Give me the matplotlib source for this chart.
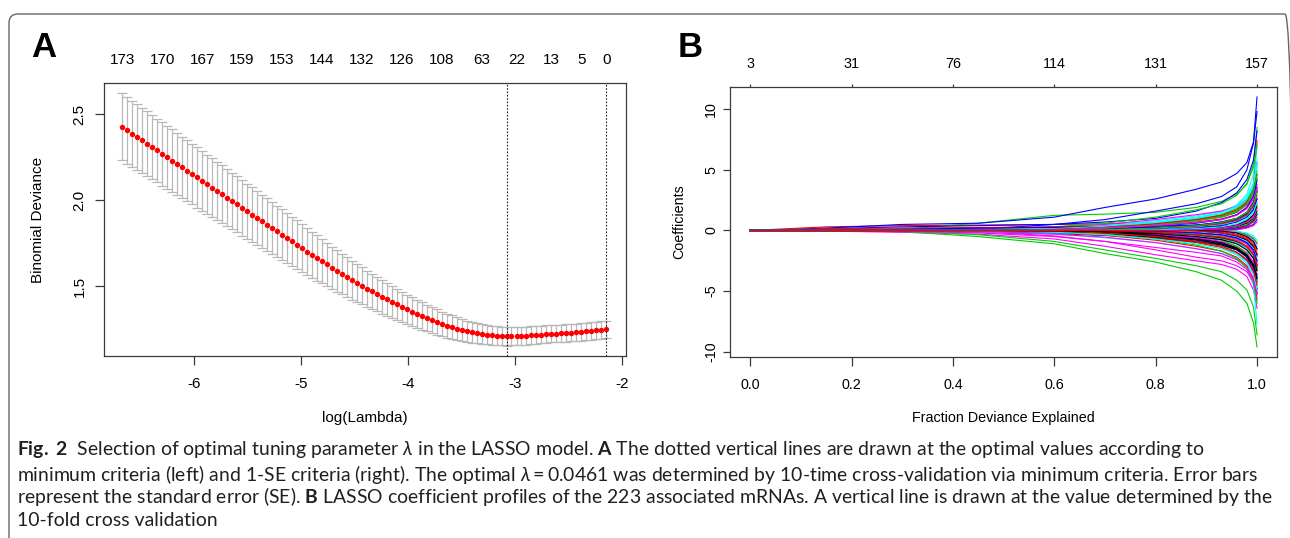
import matplotlib
matplotlib.use("Agg")
import matplotlib.pyplot as plt
from matplotlib import font_manager
from matplotlib.patches import FancyBboxPatch
from matplotlib.transforms import IdentityTransform

# Panel A: 10-fold CV binomial deviance along the lambda path
log_lambda = [
    -6.666, -6.619, -6.573, -6.526, -6.480, -6.433, -6.387, -6.340, -6.293, -6.247,
    -6.200, -6.154, -6.107, -6.061, -6.014, -5.967, -5.921, -5.874, -5.828, -5.781,
    -5.735, -5.688, -5.642, -5.595, -5.548, -5.502, -5.455, -5.409, -5.362, -5.316,
    -5.269, -5.222, -5.176, -5.129, -5.083, -5.036, -4.990, -4.943, -4.896, -4.850,
    -4.803, -4.757, -4.710, -4.664, -4.617, -4.570, -4.524, -4.477, -4.431, -4.384,
    -4.338, -4.291, -4.245, -4.198, -4.151, -4.105, -4.058, -4.012, -3.965, -3.919,
    -3.872, -3.825, -3.779, -3.732, -3.686, -3.639, -3.593, -3.546, -3.499, -3.453,
    -3.406, -3.360, -3.313, -3.267, -3.220, -3.173, -3.127, -3.080, -3.034, -2.987,
    -2.941, -2.894, -2.848, -2.801, -2.754, -2.708, -2.661, -2.615, -2.568, -2.522,
    -2.475, -2.428, -2.382, -2.335, -2.289, -2.242, -2.196, -2.149,
]
cv_mean = [
    2.426, 2.406, 2.387, 2.367, 2.348, 2.328, 2.308, 2.289, 2.269, 2.250,
    2.230, 2.210, 2.191, 2.171, 2.152, 2.132, 2.112, 2.093, 2.073, 2.054,
    2.034, 2.014, 1.995, 1.975, 1.956, 1.936, 1.916, 1.897, 1.877, 1.858,
    1.838, 1.818, 1.799, 1.779, 1.760, 1.740, 1.720, 1.701, 1.683, 1.664,
    1.645, 1.626, 1.607, 1.589, 1.570, 1.552, 1.535, 1.518, 1.501, 1.485,
    1.469, 1.453, 1.438, 1.423, 1.408, 1.394, 1.380, 1.366, 1.352, 1.339,
    1.326, 1.314, 1.302, 1.291, 1.280, 1.270, 1.261, 1.252, 1.244, 1.237,
    1.231, 1.226, 1.221, 1.217, 1.214, 1.211, 1.209, 1.207, 1.208, 1.209,
    1.210, 1.212, 1.214, 1.216, 1.218, 1.220, 1.222, 1.224, 1.225, 1.227,
    1.229, 1.231, 1.233, 1.236, 1.239, 1.242, 1.245, 1.249,
]
cv_se = [
    0.195, 0.194, 0.192, 0.191, 0.190, 0.188, 0.187, 0.186, 0.184, 0.183,
    0.182, 0.180, 0.179, 0.178, 0.176, 0.175, 0.174, 0.172, 0.171, 0.170,
    0.168, 0.167, 0.165, 0.163, 0.162, 0.160, 0.158, 0.156, 0.154, 0.153,
    0.151, 0.149, 0.147, 0.145, 0.144, 0.142, 0.140, 0.137, 0.134, 0.132,
    0.129, 0.126, 0.123, 0.121, 0.118, 0.115, 0.113, 0.110, 0.108, 0.105,
    0.103, 0.100, 0.098, 0.095, 0.093, 0.090, 0.088, 0.085, 0.083, 0.081,
    0.079, 0.078, 0.076, 0.074, 0.072, 0.070, 0.068, 0.066, 0.064, 0.062,
    0.061, 0.059, 0.057, 0.056, 0.055, 0.054, 0.054, 0.053, 0.053, 0.052,
    0.052, 0.052, 0.051, 0.051, 0.051, 0.051, 0.050, 0.050, 0.050, 0.050,
    0.050, 0.050, 0.050, 0.050, 0.050, 0.050, 0.050, 0.050,
]
lambda_min_log = -3.077
lambda_1se_log = -2.149
nzero_pos = [-6.666, -6.293, -5.921, -5.548, -5.176, -4.803, -4.431,
             -4.058, -3.686, -3.313, -2.987, -2.661, -2.382, -2.149]
nzero_labels = ["173", "170", "167", "159", "153", "144", "132",
                "126", "108", "63", "22", "13", "5", "0"]

# Panel B: coefficient profiles against fraction of deviance explained
dev_grid = [0.0, 0.05, 0.15, 0.3, 0.45, 0.6, 0.7, 0.8, 0.88, 0.93, 0.96, 0.98, 0.993, 1.0]
coef_paths = [
    [0, 0, 0.05, 0.1, 0.15, 0.2, 0.22, 0.25, 0.3, 0.35, 0.45, 0.6, 0.9, 1.4],
    [0, 0.1, 0.3, 0.4, 0.45, 0.5, 0.55, 0.65, 0.85, 1.1, 1.5, 2.2, 3.8, 7.4],
    [0, 0, 0, 0.1, 0.6, 1.25, 1.35, 1.5, 1.9, 2.4, 3.0, 3.8, 5.5, 8.5],
    [0, 0.02, 0.2, 0.5, 0.6, 1.1, 1.9, 2.6, 3.4, 4.0, 4.7, 5.6, 7.3, 11.0],
    [0, 0, 0.05, 0.1, 0.15, 0.25, 0.4, 0.65, 1.0, 1.5, 2.1, 3.0, 4.6, 6.9],
    [0, 0, -0.05, -0.15, -0.3, -0.7, -1.3, -2.0, -2.5, -2.8, -3.2, -3.8, -4.9, -6.4],
    [0, 0, 0, -0.05, -0.1, -0.25, -0.4, -0.65, -0.95, -1.3, -1.8, -2.4, -3.4, -4.8],
    [0, 0, 0, 0, 0.05, 0.2, 0.35, 0.55, 0.85, 1.15, 1.6, 2.3, 3.6, 5.6],
    [0, 0, 0, -0.1, -0.5, -1.1, -1.9, -2.6, -3.4, -4.1, -5.0, -6.0, -7.6, -9.6],
    [0, 0, 0, 0, 0.1, 0.5, 0.9, 1.6, 2.2, 2.8, 3.6, 5.0, 7.2, 9.8],
    [0, 0, 0, -0.02, -0.1, -0.3, -0.6, -1.0, -1.5, -1.9, -2.4, -3.0, -4.5, -7.7],
    [0, 0, 0, 0, -0.1, -0.45, -0.9, -1.6, -2.2, -2.5, -2.9, -3.4, -4.3, -5.8],
    [0, 0, 0, 0, 0, -0.1, -0.2, -0.4, -0.7, -1.0, -1.4, -2.0, -3.0, -4.2],
    [0, 0, 0, 0, -0.05, -0.2, -0.4, -0.8, -1.3, -1.7, -2.2, -2.9, -4.0, -5.6],
    [0, 0, 0, -0.05, -0.35, -0.9, -1.6, -2.3, -2.9, -3.4, -4.1, -4.9, -6.3, -8.6],
    [0, 0.02, 0.15, 0.3, 0.4, 0.5, 0.7, 1.0, 1.6, 2.3, 3.1, 4.2, 5.8, 8.2],
    [0, 0, 0, 0, 0.05, 0.2, 0.4, 0.8, 1.2, 1.6, 2.0, 2.6, 3.6, 5.2],
    [0, 0, 0.02, 0.08, 0.15, 0.3, 0.5, 0.9, 1.3, 1.6, 2.0, 2.5, 3.4, 4.6],
    [0, 0, 0, 0, 0, 0.05, 0.1, 0.2, 0.4, 0.6, 0.9, 1.3, 2.0, 3.2],
    [0, 0, 0, 0, 0, -0.1, -0.3, -0.6, -1.0, -1.4, -1.9, -2.5, -3.5, -4.9],
    [0, 0, 0, 0, 0.05, 0.3, 0.6, 1.1, 1.7, 2.2, 2.9, 3.9, 5.2, 7.0],
    [0, 0, 0, 0, 0, -0.05, -0.15, -0.3, -0.6, -1.0, -1.5, -2.2, -3.4, -5.2],
    [0, 0, 0, 0, 0, 0.1, 0.3, 0.6, 1.0, 1.4, 1.9, 2.6, 3.7, 5.9],
    [0, 0, -0.02, -0.1, -0.15, -0.3, -0.55, -1.0, -1.5, -1.9, -2.4, -3.0, -3.9, -5.1],
    [0, 0, 0, 0, 0, 0, -0.1, -0.3, -0.6, -1.0, -1.5, -2.1, -2.8, -3.6],
    [0, 0.05, 0.15, 0.2, 0.25, 0.3, 0.35, 0.45, 0.7, 0.95, 1.3, 1.9, 2.9, 4.3],
    [0, 0, 0, 0, 0, 0.05, 0.2, 0.5, 0.9, 1.3, 1.8, 2.4, 3.4, 4.9],
    [0, 0, 0, 0, 0, 0, 0.05, 0.15, 0.35, 0.6, 0.9, 1.4, 2.2, 3.3],
    [0, 0, -0.02, -0.08, -0.12, -0.2, -0.3, -0.5, -0.9, -1.3, -1.9, -2.6, -3.6, -4.6],
    [0, 0, 0, 0, 0, 0, -0.1, -0.3, -0.6, -0.9, -1.3, -1.8, -2.6, -3.7],
    [0, 0, 0, -0.02, -0.05, -0.1, -0.15, -0.25, -0.45, -0.7, -1.0, -1.5, -2.3, -3.3],
    [0, 0, 0, 0, 0, 0, 0.05, 0.2, 0.4, 0.7, 1.0, 1.5, 2.4, 3.6],
    [0, 0, 0, 0, 0, 0, -0.05, -0.2, -0.5, -0.8, -1.3, -1.9, -3.0, -4.4],
    [0, 0, 0.03, 0.1, 0.2, 0.25, 0.3, 0.35, 0.45, 0.6, 0.8, 1.2, 1.8, 2.6],
    [0, 0, 0, 0, 0, 0, 0.05, 0.15, 0.3, 0.5, 0.8, 1.2, 1.9, 3.0],
    [0, 0, 0, -0.03, -0.1, -0.2, -0.3, -0.4, -0.55, -0.75, -1.0, -1.4, -2.0, -2.8],
    [0, 0, 0, 0, 0, 0, 0, 0, -0.1, -0.3, -0.6, -1.0, -1.6, -2.5],
    [0, 0, 0, 0, 0, 0, 0, -0.05, -0.2, -0.4, -0.7, -1.1, -1.8, -2.8],
    [0, 0, 0, 0, 0, 0, 0, 0, 0.1, 0.25, 0.5, 0.9, 1.5, 2.3],
    [0, 0, 0, 0, 0, 0, 0, 0, -0.1, -0.25, -0.5, -0.8, -1.4, -2.1],
    [0, 0, 0, 0, 0, 0, 0, 0, 0.05, 0.2, 0.4, 0.7, 1.2, 1.9],
    [0, 0, 0, 0, 0, 0, 0, 0, -0.05, -0.2, -0.4, -0.7, -1.2, -1.9],
    [0, 0, 0, 0, 0, 0, 0, 0, 0.05, 0.15, 0.3, 0.6, 1.0, 1.6],
    [0, 0, 0, 0, 0, 0, 0, 0, 0, -0.1, -0.3, -0.6, -1.0, -1.6],
    [0, 0, 0, 0, 0, 0, 0, 0, 0, 0.1, 0.25, 0.5, 0.9, 1.4],
    [0, 0, 0, 0, 0, 0, 0, 0, 0, 0.05, 0.2, 0.4, 0.8, 1.3],
    [0, 0, 0, 0, 0, 0, 0, 0, 0, -0.05, -0.2, -0.4, -0.8, -1.3],
    [0, 0, 0, 0, 0, 0, 0, 0, 0, -0.05, -0.15, -0.35, -0.7, -1.1],
    [0, 0, 0, 0, 0, 0, 0, 0, -0.05, -0.2, -0.45, -0.8, -1.3, -2.0],
    [0, 0, 0, 0, 0, 0, 0, 0, 0, 0.05, 0.15, 0.35, 0.7, 1.1],
    [0, 0, 0, 0, 0, 0, 0, 0, 0, 0, -0.1, -0.3, -0.6, -1.0],
    [0, 0, 0, 0, 0, 0, 0, 0, 0, 0, 0.1, 0.25, 0.5, 0.9],
    [0, 0, 0, 0, 0, 0, 0, 0, 0, 0, -0.05, -0.2, -0.45, -0.8],
    [0, 0, 0, 0, 0, 0, 0, 0, 0, 0, 0.05, 0.2, 0.4, 0.7],
    [0, 0, 0, 0, 0, 0, 0, 0, 0, -0.05, -0.2, -0.5, -0.9, -1.5],
    [0, 0, 0, 0, 0, 0, 0, 0, 0.05, 0.2, 0.4, 0.7, 1.2, 1.9],
    [0, 0, 0, 0, 0.02, 0.1, 0.25, 0.5, 0.8, 1.1, 1.5, 2.1, 3.0, 4.3],
    [0, 0, 0, 0, 0, -0.05, -0.2, -0.45, -0.8, -1.15, -1.6, -2.2, -3.1, -4.0],
    [0, 0, 0, 0, 0.05, 0.15, 0.35, 0.7, 1.1, 1.5, 2.0, 2.8, 3.9, 5.4],
    [0, 0, 0, 0, 0, 0.05, 0.2, 0.5, 0.85, 1.2, 1.6, 2.1, 2.8, 3.8],
    [0, 0, 0, 0, -0.05, -0.15, -0.3, -0.55, -0.9, -1.2, -1.6, -2.1, -2.9, -3.9],
    [0, 0, 0, 0, 0.02, 0.1, 0.25, 0.55, 0.9, 1.25, 1.7, 2.3, 3.2, 4.6],
    [0, 0, 0, 0, 0, -0.1, -0.3, -0.7, -1.2, -1.7, -2.3, -3.1, -4.3, -6.0],
    [0, 0, 0, 0, 0, 0.05, 0.15, 0.35, 0.6, 0.9, 1.3, 1.9, 2.8, 4.1],
    [0, 0, 0, 0, -0.05, -0.15, -0.35, -0.7, -1.1, -1.5, -2.0, -2.7, -3.6, -4.9],
    [0, 0, 0, -0.05, -0.2, -0.5, -0.9, -1.4, -1.8, -2.1, -2.6, -3.2, -4.1, -5.3],
    [0, 0, 0, 0, 0, -0.05, -0.15, -0.4, -0.75, -1.1, -1.5, -2.0, -2.8, -3.9],
    [0, 0, 0, 0, 0, -0.05, -0.2, -0.5, -0.9, -1.3, -1.8, -2.4, -3.3, -4.5],
    [0, 0, 0, 0, 0, 0.05, 0.2, 0.45, 0.8, 1.15, 1.6, 2.2, 3.2, 4.6],
    [0, 0, 0, 0, 0, 0, 0.05, 0.2, 0.45, 0.7, 1.0, 1.5, 2.3, 3.5],
    [0, 0, 0, 0, 0, 0, -0.05, -0.2, -0.45, -0.7, -1.0, -1.5, -2.2, -3.2],
    [0, 0, 0, 0, 0.02, 0.08, 0.2, 0.4, 0.65, 0.9, 1.25, 1.8, 2.6, 3.5],
    [0, 0, 0, 0, 0, 0, -0.05, -0.15, -0.35, -0.6, -0.9, -1.3, -2.0, -2.9],
    [0, 0, 0, 0, 0, 0, 0.05, 0.15, 0.35, 0.55, 0.85, 1.3, 2.0, 2.9],
    [0, 0, 0, 0, 0, 0, 0, -0.1, -0.3, -0.5, -0.8, -1.3, -2.0, -3.1],
    [0, 0, 0, 0, 0, 0, 0, 0.05, 0.2, 0.4, 0.7, 1.1, 1.7, 2.6],
    [0, 0, 0, 0, 0, 0, 0, 0, -0.1, -0.3, -0.55, -0.9, -1.5, -2.4],
    [0, 0, 0, 0, 0, 0, 0, -0.05, -0.2, -0.4, -0.7, -1.1, -1.7, -2.6],
    [0, 0, 0, 0, 0, 0, 0, 0, 0.1, 0.25, 0.45, 0.8, 1.3, 2.1],
    [0, 0, 0, 0, 0, 0, -0.05, -0.15, -0.35, -0.55, -0.85, -1.3, -2.0, -3.0],
    [0, 0, 0, 0, 0, 0, 0.05, 0.2, 0.4, 0.65, 1.0, 1.5, 2.2, 3.2],
    [0, 0, 0, 0, 0, 0, 0, -0.05, -0.2, -0.35, -0.6, -1.0, -1.6, -2.5],
    [0, 0, 0, 0, 0, 0, 0, 0.05, 0.15, 0.3, 0.55, 0.95, 1.5, 2.3],
    [0, 0, 0, 0, 0, 0, 0, 0, 0.05, 0.2, 0.4, 0.7, 1.1, 1.8],
    [0, 0, 0, 0, 0, -0.02, -0.1, -0.25, -0.5, -0.75, -1.1, -1.6, -2.3, -3.3],
    [0, 0, 0, 0, 0, 0, 0, 0, -0.05, -0.2, -0.4, -0.7, -1.2, -1.9],
]
df_pos = [0.0, 0.2, 0.4, 0.6, 0.8, 1.0]
df_labels = ["3", "31", "76", "114", "131", "157"]

caption_lines = [
    r"$\mathbf{Fig.}$ $\mathbf{2}$  Selection of optimal tuning parameter $\lambda$ in the LASSO model. "
    r"$\mathbf{A}$ The dotted vertical lines are drawn at the optimal values according to",
    r"minimum criteria (left) and 1-SE criteria (right). The optimal $\lambda = 0.0461$ was "
    r"determined by 10-time cross-validation via minimum criteria. Error bars",
    r"represent the standard error (SE). $\mathbf{B}$ LASSO coefficient profiles of the 223 "
    r"associated mRNAs. A vertical line is drawn at the value determined by the",
    "10-fold cross validation",
]

# R's default matplot palette
palette = ["#000000", "#FF0000", "#00CD00", "#0000FF", "#00FFFF", "#FF00FF"]

W, H = 1290, 538
plt.rcParams["font.family"] = ["Liberation Sans", "DejaVu Sans"]
plt.rcParams["mathtext.fontset"] = "custom"
plt.rcParams["mathtext.rm"] = "Lato"
plt.rcParams["mathtext.it"] = "Lato:italic"
plt.rcParams["mathtext.bf"] = "Lato:bold"

try:
    font_manager.findfont("Liberation Sans Narrow", fallback_to_default=False)
    b_family, b_size = "Liberation Sans Narrow", 11
except ValueError:
    b_family, b_size = "Liberation Sans", 10.3


def box(left, top, right, bottom):
    return [left / W, 1 - bottom / H, (right - left) / W, (bottom - top) / H]


def style_frame(ax):
    for sp in ax.spines.values():
        sp.set_color("#3a3a3a")
        sp.set_linewidth(0.9)


fig = plt.figure(figsize=(W / 100, H / 100), dpi=100)

# rounded frame around the figure block
frame = FancyBboxPatch((9, -40), 1285, 524 + 40, boxstyle="round,pad=0,rounding_size=9",
                       transform=IdentityTransform(), fill=False, edgecolor="#666666", linewidth=1.0)
fig.add_artist(frame)

# ---- A ----
axA = fig.add_axes(box(104, 83.3, 625.7, 355.7))
axA.errorbar(log_lambda, cv_mean, yerr=cv_se, fmt="none", ecolor="#b8b8b8",
             elinewidth=0.9, capsize=3.6, capthick=0.9)
axA.plot(log_lambda, cv_mean, "o", color="red", ms=3.9, mew=0)
axA.axvline(lambda_min_log, color="#222222", lw=0.8, ls=(0, (1.5, 1.5)))
axA.axvline(lambda_1se_log, color="#222222", lw=0.8, ls=(0, (1.5, 1.5)))
axA.set_xlim(-6.837, -1.968)
axA.set_ylim(1.095, 2.68)
axA.set_xticks([-6, -5, -4, -3, -2], labels=["-6", "-5", "-4", "-3", "-2"])
axA.set_yticks([1.5, 2.0, 2.5], labels=["1.5", "2.0", "2.5"])
axA.tick_params(direction="out", length=6.5, width=0.9, color="#3a3a3a", labelsize=11)
axA.tick_params(axis="x", pad=9)
axA.tick_params(axis="y", pad=6)
for lbl in axA.get_yticklabels():
    lbl.set_rotation(90)
    lbl.set_va("center")
style_frame(axA)
axA.set_xlabel("log(Lambda)", fontsize=11, va="center")
axA.xaxis.set_label_coords(0.5, -0.2298)
axA.set_ylabel("Binomial Deviance", fontsize=11, va="center")
axA.yaxis.set_label_coords(-0.1256, 0.5)

secA = axA.secondary_xaxis("top")
secA.set_xticks(nzero_pos, labels=nzero_labels)
secA.tick_params(length=0, pad=11.5, labelsize=11)
for sp in secA.spines.values():
    sp.set_visible(False)

# ---- B ----
axB = fig.add_axes(box(730, 87.3, 1277.3, 356.7))
for i, path in enumerate(coef_paths):
    axB.plot(dev_grid, path, color=palette[i % 6], lw=0.8)
axB.set_xlim(-0.04, 1.04)
axB.set_ylim(-10.4, 11.8)
axB.set_xticks([0.0, 0.2, 0.4, 0.6, 0.8, 1.0], labels=["0.0", "0.2", "0.4", "0.6", "0.8", "1.0"])
axB.set_yticks([-10, -5, 0, 5, 10], labels=["-10", "-5", "0", "5", "10"])
axB.tick_params(direction="out", width=0.9, color="#3a3a3a", labelsize=b_size)
axB.tick_params(axis="x", length=6.5, pad=9)
axB.tick_params(axis="y", length=5, pad=3.5)
for lbl in axB.get_yticklabels():
    lbl.set_rotation(90)
    lbl.set_va("center")
for lbl in axB.get_xticklabels() + axB.get_yticklabels():
    lbl.set_fontfamily(b_family)
style_frame(axB)
axB.set_xlabel("Fraction Deviance Explained", fontsize=b_size, family=b_family, va="center")
axB.xaxis.set_label_coords(0.5, -0.2264)
axB.set_ylabel("Coefficients", fontsize=b_size, family=b_family, va="center")
axB.yaxis.set_label_coords(-0.0923, 0.5)

secB = axB.secondary_xaxis("top")
secB.set_xticks(df_pos, labels=df_labels)
secB.tick_params(direction="out", length=2.3, width=0.9, color="#3a3a3a", pad=9.6, labelsize=b_size)
for lbl in secB.get_xticklabels():
    lbl.set_fontfamily(b_family)
for sp in secB.spines.values():
    sp.set_visible(False)

# panel letters
fig.text(31 / W, 1 - 57 / H, "A", fontsize=25, fontweight="bold", va="baseline")
fig.text(678 / W, 1 - 57 / H, "B", fontsize=25, fontweight="bold", va="baseline")

# caption, sized so the second line spans the measured width
caption_y = [450, 474, 497, 520]
texts = [fig.text(17 / W, 1 - y / H, s, fontsize=12, family="Lato",
                  color="#231f20", va="center")
         for s, y in zip(caption_lines, caption_y)]
fig.canvas.draw()
renderer = fig.canvas.get_renderer()
scale = 1240 / texts[1].get_window_extent(renderer).width
for t in texts:
    t.set_fontsize(12 * scale)

fig.savefig("out.png", dpi=100, facecolor="white")
